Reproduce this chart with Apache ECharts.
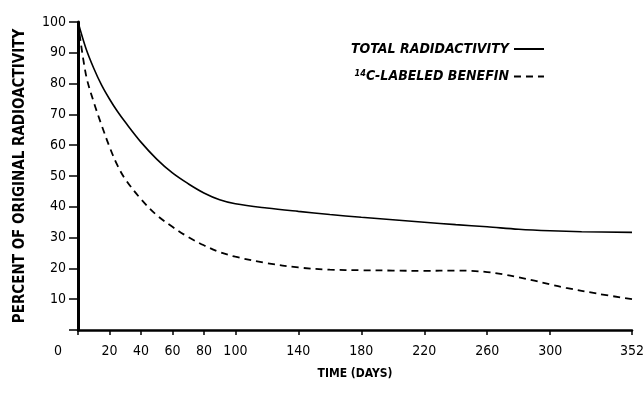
<!DOCTYPE html>
<html>
<head>
<meta charset="utf-8">
<script src="https://cdn.jsdelivr.net/npm/echarts@6/dist/echarts.min.js"></script>
<style>
  html, body { margin: 0; padding: 0; background: #fff; }
  #chart { width: 643px; height: 393px; }
</style>
</head>
<body>
<div id="chart"></div>
<script>
// days / percent
const totalDays = [0, 5, 10, 15, 20, 25, 30, 40, 50, 60, 70, 80, 90, 100, 120, 140, 160, 180, 200, 220, 240, 260, 280, 300, 320, 352];
const totalPct  = [100, 91.5, 85, 79.5, 75, 71, 67.5, 61, 55.5, 51, 47.5, 44.5, 42.3, 41, 39.6, 38.5, 37.5, 36.6, 35.8, 35, 34.2, 33.5, 32.7, 32.2, 31.9, 31.7];

const benefinDays = [0, 5, 10, 15, 20, 25, 30, 40, 50, 60, 70, 80, 90, 100, 120, 140, 160, 180, 200, 220, 240, 250, 260, 270, 280, 290, 300, 310, 330, 352];
const benefinPct  = [100, 83, 74, 66.5, 59.5, 53.5, 49, 42.5, 37.3, 33.5, 30.2, 27.5, 25.3, 23.8, 21.7, 20.3, 19.6, 19.4, 19.3, 19.2, 19.3, 19.2, 18.8, 18.1, 17.1, 16, 14.8, 13.7, 11.8, 10];

const xTicks = [0, 20, 40, 60, 80, 100, 140, 180, 220, 260, 300, 352];
const seriesNames = ['TOTAL RADIDACTIVITY', '14C-LABELED BENEFIN'];

const FONT = "'DejaVu Sans Condensed', sans-serif";

const pairs = (xs, ys) => xs.map((x, i) => [x, ys[i]]);

const chart = echarts.init(document.getElementById('chart'), null, { renderer: 'canvas' });

chart.setOption({
  backgroundColor: '#fff',
  animation: false,
  grid: { left: 78, right: 11, top: 22, bottom: 63, outerBoundsMode: 'none' },
  legend: {
    left: 346,
    top: 37,
    orient: 'vertical',
    align: 'right',
    itemWidth: 30,
    itemHeight: 14,
    itemGap: 13,
    data: seriesNames,
    itemStyle: { opacity: 0 },
    formatter: (name) => name.startsWith('14') ? '{sup|14}{t|' + name.slice(2) + '}' : '{t|' + name + '}',
    textStyle: {
      color: '#000',
      fontFamily: FONT,
      fontSize: 14,
      fontWeight: 'bold',
      fontStyle: 'italic',
      rich: {
        t: { fontFamily: FONT, fontSize: 14, fontWeight: 'bold', fontStyle: 'italic', color: '#000' },
        sup: { fontFamily: FONT, fontSize: 9, fontWeight: 'bold', color: '#000', verticalAlign: 'top', padding: [0, 0, 6, 0] }
      }
    }
  },
  xAxis: {
    type: 'value',
    min: 0,
    max: 352,
    name: 'TIME (DAYS)',
    nameLocation: 'middle',
    nameGap: 38,
    nameTextStyle: { color: '#000', fontFamily: FONT, fontSize: 12, fontWeight: 'bold' },
    splitLine: { show: false },
    axisLine: { lineStyle: { color: '#000', width: 2.5 } },
    axisTick: { customValues: xTicks, length: 5, lineStyle: { color: '#000', width: 1.5 } },
    axisLabel: {
      customValues: xTicks,
      color: '#000',
      fontFamily: FONT,
      fontSize: 14,
      margin: 14,
      formatter: (v) => v === 0 ? '{z|0}' : String(v),
      rich: { z: { fontFamily: FONT, fontSize: 14, color: '#000', padding: [0, 40, 0, 0] } }
    }
  },
  yAxis: {
    type: 'value',
    min: 0,
    max: 100,
    interval: 10,
    name: 'PERCENT OF ORIGINAL RADIOACTIVITY',
    nameLocation: 'middle',
    nameRotate: 90,
    nameGap: 50,
    nameTextStyle: { color: '#000', fontFamily: FONT, fontSize: 15, fontWeight: 'bold' },
    splitLine: { show: false },
    axisLine: { lineStyle: { color: '#000', width: 3 } },
    axisTick: { length: 9, lineStyle: { color: '#000', width: 1.5 } },
    axisLabel: {
      color: '#000',
      fontFamily: FONT,
      fontSize: 14,
      margin: 12,
      formatter: (v) => v === 0 ? '' : String(v)
    }
  },
  series: [
    {
      name: seriesNames[0],
      type: 'line',
      data: pairs(totalDays, totalPct),
      smooth: 0.35,
      symbol: 'none',
      lineStyle: { color: '#000', width: 1.6 },
      itemStyle: { color: '#000' }
    },
    {
      name: seriesNames[1],
      type: 'line',
      data: pairs(benefinDays, benefinPct),
      smooth: 0.35,
      symbol: 'none',
      lineStyle: { color: '#000', width: 1.8, type: [7, 5] },
      itemStyle: { color: '#000' }
    }
  ]
});
</script>
</body>
</html>
